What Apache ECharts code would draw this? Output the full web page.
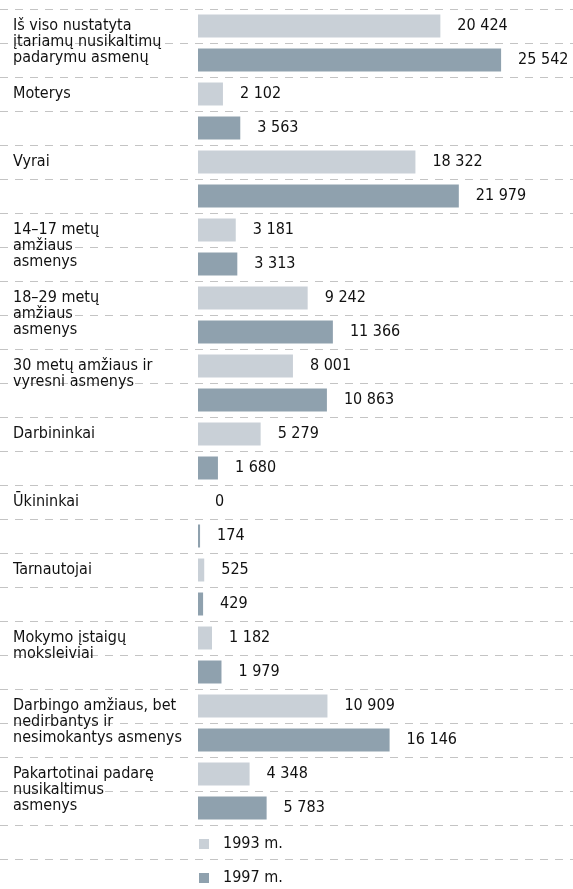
<!DOCTYPE html>
<html>
<head>
<meta charset="utf-8">
<style>
  html, body { margin: 0; padding: 0; background: #fff; }
  #chart { width: 573px; height: 889px; }
</style>
<script src="https://cdn.jsdelivr.net/npm/echarts@6/dist/echarts.min.js"></script>
</head>
<body>
<div id="chart"></div>
<script>
var categories = [
    'Iš viso nustatyta\nįtariamų nusikaltimų\npadarymu asmenų',
    'Moterys',
    'Vyrai',
    '14–17 metų\namžiaus\nasmenys',
    '18–29 metų\namžiaus\nasmenys',
    '30 metų amžiaus ir\nvyresni asmenys',
    'Darbininkai',
    'Ūkininkai',
    'Tarnautojai',
    'Mokymo įstaigų\nmoksleiviai',
    'Darbingo amžiaus, bet\nnedirbantys ir\nnesimokantys asmenys',
    'Pakartotinai padarę\nnusikaltimus\nasmenys'
];
var values1993 = [20424, 2102, 18322, 3181, 9242, 8001, 5279, 0, 525, 1182, 10909, 4348];
var values1997 = [25542, 3563, 21979, 3313, 11366, 10863, 1680, 174, 429, 1979, 16146, 5783];
var seriesNames = ['1993 m.', '1997 m.'];

var myChart = echarts.init(document.getElementById('chart'));
var FONT = '"DejaVu Sans Condensed", "Liberation Sans Narrow", sans-serif';
var TEXT = '#111';

// every category takes two rows: 1993 on the first, 1997 on the second
var rowIds = [];
var rows1993 = [];
var rows1997 = [];
for (var i = 0; i < categories.length; i++) {
    rowIds.push('r' + (2 * i), 'r' + (2 * i + 1));
    rows1993.push(values1993[i], '-');
    rows1997.push('-', values1997[i]);
}
// rows for the dashed lines, one more for the legend
var lineRows = [];
for (var j = 0; j < rowIds.length + 1; j++) lineRows.push('l' + j);

var fmt = function (v) {
    return String(v).replace(/\B(?=(\d{3})+(?!\d))/g, ' ');
};

// first line of the name sits on the row centre: pad with empty lines on top
var rowLabel = function (value, index) {
    if (index % 2) return '';
    var name = categories[index / 2];
    var n = name.split('\n').length;
    var pad = '';
    for (var k = 1; k < n; k++) pad += '\n';
    return pad + name;
};

var legendText = { fontFamily: FONT, fontSize: 16, color: TEXT, lineHeight: 20, padding: [0, 0, 0, 9] };

var valueLabel = {
    show: true, position: 'right', distance: 17,
    fontFamily: FONT, fontSize: 16, color: TEXT,
    padding: [4, 0, 0, 0],
    formatter: function (p) { return fmt(p.value); }
};

option = {
    backgroundColor: '#fff',
    animation: false,
    textStyle: { fontFamily: FONT },
    legend: [
        {
            data: [seriesNames[0]],
            left: 194, top: 829,
            itemWidth: 10, itemHeight: 10,
            icon: 'rect',
            textStyle: legendText
        },
        {
            data: [seriesNames[1]],
            left: 194, top: 863,
            itemWidth: 10, itemHeight: 10,
            icon: 'rect',
            textStyle: legendText
        }
    ],
    grid: [
        { left: 0, right: 0, top: 9, height: 850, outerBoundsMode: 'none', containLabel: false },
        { left: 198, right: 19, top: 9, height: 816, outerBoundsMode: 'none', containLabel: false }
    ],
    xAxis: [
        { gridIndex: 0, type: 'value', show: false, min: 0, max: 1 },
        {
            gridIndex: 1, type: 'value', min: 0, max: 30000,
            axisLine: { show: false }, axisTick: { show: false },
            axisLabel: { show: false }, splitLine: { show: false }
        }
    ],
    yAxis: [
        {
            gridIndex: 0, type: 'category', inverse: true, data: lineRows,
            axisLine: { show: false }, axisTick: { show: false }, axisLabel: { show: false },
            splitLine: {
                show: true,
                lineStyle: { color: '#c4c4c4', width: 1, type: [8, 7] }
            }
        },
        {
            gridIndex: 1, type: 'category', inverse: true, data: rowIds,
            axisLine: { show: false }, axisTick: { show: false },
            splitLine: { show: false },
            axisLabel: {
                interval: 0,
                align: 'left',
                margin: 185,
                fontFamily: FONT,
                fontSize: 16,
                lineHeight: 16,
                color: TEXT,
                padding: [5, 0, 0, 0],
                formatter: rowLabel
            }
        }
    ],
    series: [
        {
            name: seriesNames[0],
            type: 'bar',
            xAxisIndex: 1, yAxisIndex: 1,
            data: rows1993,
            barWidth: 23,
            barGap: '-100%',
            itemStyle: { color: '#c9d0d7' },
            label: valueLabel
        },
        {
            name: seriesNames[1],
            type: 'bar',
            xAxisIndex: 1, yAxisIndex: 1,
            data: rows1997,
            barWidth: 23,
            barGap: '-100%',
            itemStyle: { color: '#8fa1ae' },
            label: valueLabel
        }
    ]
};
myChart.setOption(option);
</script>
</body>
</html>
